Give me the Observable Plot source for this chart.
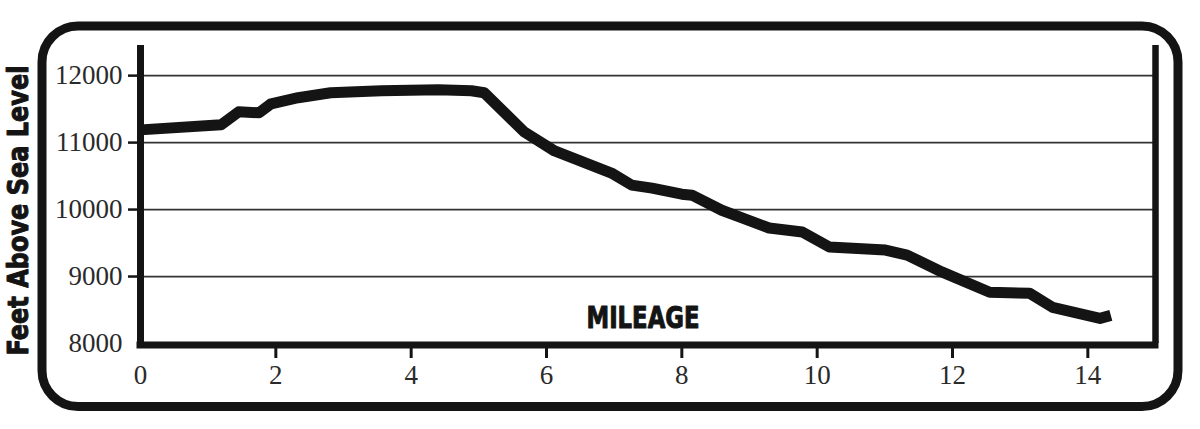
<!DOCTYPE html>
<html>
<head>
<meta charset="utf-8">
<script src="https://cdn.jsdelivr.net/npm/d3@7"></script>
<script src="https://cdn.jsdelivr.net/npm/@observablehq/plot@0.6"></script>
<style>
  html, body { margin: 0; padding: 0; background: #fff; }
  #chart { width: 1200px; height: 429px; }
</style>
</head>
<body>
<div id="chart"></div>
<script>
// Trail elevation profile
const miles = [0, 1.19, 1.45, 1.75, 1.93, 2.33, 2.81, 3.56, 4.40, 4.89, 5.08, 5.67, 6.12, 6.96, 7.26, 7.56, 8.0, 8.15, 8.59, 8.89, 9.29, 9.78, 10.18, 11.01, 11.33, 11.85, 12.55, 13.14, 13.48, 14.18, 14.34];
const feet  = [11190, 11265, 11460, 11445, 11580, 11670, 11745, 11775, 11790, 11775, 11745, 11160, 10875, 10545, 10365, 10320, 10230, 10215, 9990, 9875, 9725, 9665, 9440, 9395, 9320, 9065, 8765, 8750, 8540, 8375, 8420];

const yTickLabels = [8000, 9000, 10000, 11000, 12000];
const yTickMarks = [9000, 10000, 11000, 12000];
const gridValues = [9000, 10000, 11000, 12000];
const xTickLabels = [0, 2, 4, 6, 8, 10, 12, 14];
const xTickMarks = [2, 4, 6, 8, 10, 12, 14];
const xDomain = [0, 15];
const yDomain = [8000, 12450];
const yTitle = "Feet Above Sea Level";
const xTitle = "MILEAGE";

const data = miles.map((m, i) => ({mile: m, feet: feet[i]}));

const ink = "#141414";
const titleFont = "'DejaVu Sans Condensed', 'DejaVu Sans', sans-serif";

const chart = Plot.plot({
  width: 1200,
  height: 429,
  marginLeft: 140,
  marginRight: 45,
  marginTop: 45,
  marginBottom: 86,
  style: {fontFamily: "'Liberation Serif', serif", fontSize: "27px", color: "#2a2a2a", background: "#fff"},
  x: {domain: xDomain, label: null},
  y: {domain: yDomain, label: null},
  marks: [
    Plot.frame({stroke: ink, strokeWidth: 9, rx: 36, ry: 36,
      insetLeft: -98.5, insetRight: -22.5, insetTop: -19.5, insetBottom: -63}),
    Plot.ruleY(gridValues, {stroke: "#333", strokeWidth: 1.7}),
    Plot.axisY(yTickMarks, {tickSize: 12, tickFormat: () => "", strokeWidth: 2.5, stroke: ink, label: null}),
    Plot.axisY(yTickLabels, {tickSize: 0, tickPadding: 18, label: null, tickFormat: d => String(d)}),
    Plot.axisX(xTickMarks, {tickSize: 15, tickFormat: () => "", strokeWidth: 3, stroke: ink, label: null}),
    Plot.axisX(xTickLabels, {tickSize: 0, tickPadding: 21, label: null, tickFormat: d => String(d)}),
    Plot.line(data, {x: "mile", y: "feet", stroke: ink, strokeWidth: 11, strokeLinejoin: "round", strokeLinecap: "butt"}),
    Plot.ruleX([xDomain[0]], {y1: yDomain[0], y2: yDomain[1], stroke: ink, strokeWidth: 7}),
    Plot.ruleX([xDomain[1]], {y1: yDomain[0], y2: yDomain[1], stroke: ink, strokeWidth: 6.5}),
    Plot.ruleY([yDomain[0]], {x1: xDomain[0], x2: xDomain[1], stroke: ink, strokeWidth: 7, strokeLinecap: "square", dy: 1.5}),
    Plot.text([xTitle], {frameAnchor: "bottom", dx: -5, dy: -16, text: d => d,
      fontFamily: titleFont, fontWeight: 900, fontSize: 31,
      fill: ink, stroke: ink, strokeWidth: 1, lineAnchor: "bottom"}),
    Plot.text([yTitle], {frameAnchor: "left", dx: -122, dy: 16, rotate: -90, text: d => d,
      fontFamily: titleFont, fontWeight: 900, fontSize: 29,
      fill: ink, stroke: ink, strokeWidth: 1, lineAnchor: "middle", textAnchor: "middle"})
  ]
});

// condense the bold titles to the poster's narrow lettering
d3.select(chart).selectAll("text").each(function() {
  const t = this.textContent;
  if (t === xTitle) d3.select(this).attr("textLength", 113).attr("lengthAdjust", "spacingAndGlyphs");
  if (t === yTitle) d3.select(this).attr("textLength", 290).attr("lengthAdjust", "spacingAndGlyphs");
});

document.getElementById("chart").appendChild(chart);
</script>
</body>
</html>
